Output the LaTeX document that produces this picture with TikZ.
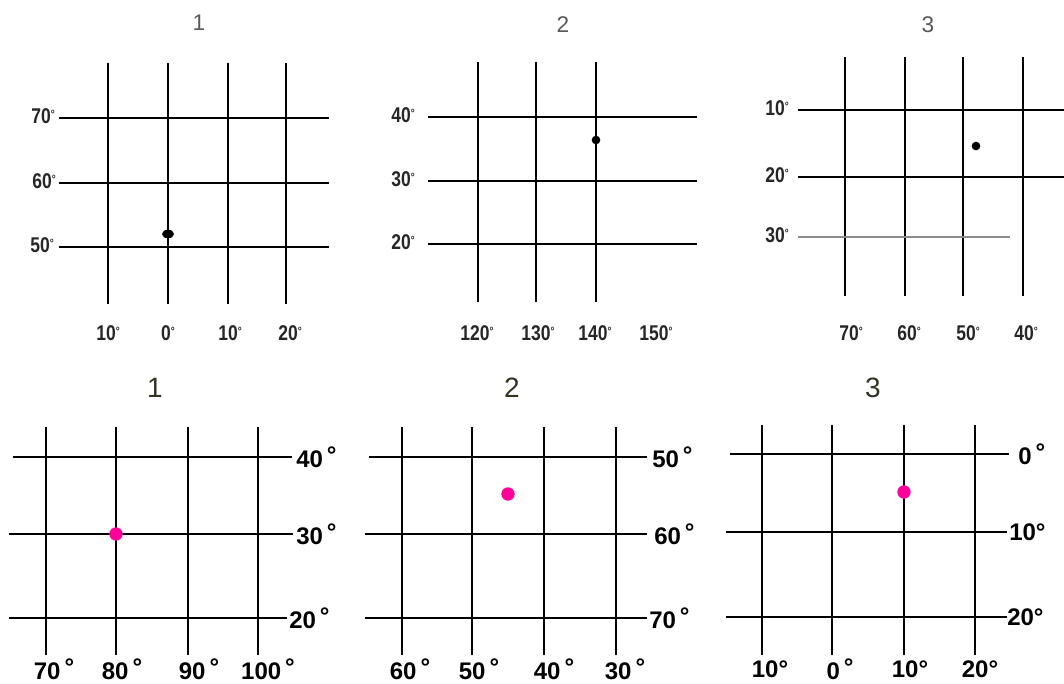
\documentclass[tikz,border=0pt]{standalone}
\usepackage{fontspec}
\setmainfont{Liberation Sans}
\newfontfamily\condfont[FakeStretch=0.82]{Liberation Sans}
\usetikzlibrary{positioning, shapes.geometric}
\definecolor{cMag}{RGB}{255,0,153}
\definecolor{cTitle}{RGB}{51,51,34}
\definecolor{cGrey}{RGB}{90,90,90}
\newcommand{\dg}{\raisebox{4pt}{\fontsize{9}{9}\selectfont °}}
\newcommand{\bdg}{\,\raisebox{3pt}{°}}
\tikzset{
	gridline/.style={line width=1.2pt, black},
	faintline/.style={line width=0.9pt, black!45},
	toplab/.style={font=\condfont\bfseries\fontsize{16}{16}\selectfont, text=black!85, inner sep=0pt},
	botlab/.style={font=\bfseries\fontsize{18}{18}\selectfont, inner sep=0pt},
	toptitle/.style={font=\fontsize{17}{17}\selectfont, text=cGrey},
	bottitle/.style={font=\fontsize{21}{21}\selectfont, text=cTitle},
	bkdot/.style={circle, fill=black, inner sep=0pt, minimum size=6.5pt},
	mgdot/.style={circle, fill=cMag, inner sep=0pt, minimum size=10pt},
}

\begin{document}
\begin{tikzpicture}[x=0.75pt, y=-0.75pt]
	\useasboundingbox (0,0) rectangle (1064,683);
	% top row, map 1
	\node[toptitle] (ta) at (199,23) {1};
	\foreach \x in {108,168,228,286} \draw[gridline] (\x,63) -- (\x,304);
	\foreach \y in {118,183,247} \draw[gridline] (59,\y) -- (329,\y);
	\node[toplab, anchor=east] (ta70) at (55,116) {70\dg};
	\node[toplab, anchor=east] (ta60) at (56,181) {60\dg};
	\node[toplab, anchor=east] (ta50) at (54,245) {50\dg};
	\node[toplab] (ta10w) at (108,333) {10\dg};
	\node[toplab] (ta0) at (168,333) {0\dg};
	\node[toplab] (ta10e) at (230,333) {10\dg};
	\node[toplab] (ta20) at (290,333) {20\dg};
	\node[bkdot, ellipse, minimum width=9pt, minimum height=6.5pt] (pa) at (168,234) {};
	% top row, map 2
	\node[toptitle] (tb) at (563,25) {2};
	\foreach \x in {478,536,596} \draw[gridline] (\x,62) -- (\x,302);
	\foreach \y in {117,181,244} \draw[gridline] (428,\y) -- (697,\y);
	\node[toplab, anchor=east] (tb40) at (415,115) {40\dg};
	\node[toplab, anchor=east] (tb30) at (415,179) {30\dg};
	\node[toplab, anchor=east] (tb20) at (415,242) {20\dg};
	\node[toplab] (tb120) at (477,333) {120\dg};
	\node[toplab] (tb130) at (538,333) {130\dg};
	\node[toplab] (tb140) at (595,333) {140\dg};
	\node[toplab] (tb150) at (656,333) {150\dg};
	\node[bkdot] (pb) at (596,140) {};
	% top row, map 3
	\node[toptitle] (tc) at (928,25) {3};
	\foreach \x in {845,905,963,1023} \draw[gridline] (\x,57) -- (\x,296);
	\foreach \y in {110,177} \draw[gridline] (798,\y) -- (1064,\y);
	\draw[faintline] (798,237) -- (1010,237);
	\node[toplab, anchor=east] (tc10) at (789,108) {10\dg};
	\node[toplab, anchor=east] (tc20) at (789,175) {20\dg};
	\node[toplab, anchor=east] (tc30) at (789,235) {30\dg};
	\node[toplab] (tc70) at (851,333) {70\dg};
	\node[toplab] (tc60) at (909,333) {60\dg};
	\node[toplab] (tc50) at (968,333) {50\dg};
	\node[toplab] (tc40) at (1026,333) {40\dg};
	\node[bkdot] (pc) at (976,146) {};
	% bottom row, map 1
	\node[bottitle] (ba) at (155,388) {1};
	\foreach \x in {46,116,188,258} \draw[gridline] (\x,427) -- (\x,655);
	\draw[gridline] (13,457) -- (292,457);
	\draw[gridline] (9,534) -- (293,534);
	\draw[gridline] (9,618) -- (287,618);
	\node[botlab, anchor=west] (ba40) at (296,457) {40\bdg};
	\node[botlab, anchor=west] (ba30) at (296,534) {30\bdg};
	\node[botlab, anchor=west] (ba20) at (289,618) {20\bdg};
	\node[botlab] (ba70) at (54,669) {70\bdg};
	\node[botlab] (ba80) at (122,669) {80\bdg};
	\node[botlab] (ba90) at (199,669) {90\bdg};
	\node[botlab] (ba100) at (268,669) {100\bdg};
	\node[mgdot] (qa) at (116,534) {};
	% bottom row, map 2
	\node[bottitle] (bb) at (512,388) {2};
	\foreach \x in {402,472,544,616} \draw[gridline] (\x,427) -- (\x,655);
	\draw[gridline] (369,457) -- (647,457);
	\draw[gridline] (365,534) -- (647,534);
	\draw[gridline] (365,618) -- (647,618);
	\node[botlab, anchor=west] (bb50) at (652,457) {50\bdg};
	\node[botlab, anchor=west] (bb60) at (654,534) {60\bdg};
	\node[botlab, anchor=west] (bb70) at (649,618) {70\bdg};
	\node[botlab] (bb60b) at (410,669) {60\bdg};
	\node[botlab] (bb50b) at (479,669) {50\bdg};
	\node[botlab] (bb40b) at (554,669) {40\bdg};
	\node[botlab] (bb30b) at (625,669) {30\bdg};
	\node[mgdot] (qb) at (508,494) {};
	% bottom row, map 3
	\node[bottitle] (bc) at (873,388) {3};
	\foreach \x in {762,832,904,975} \draw[gridline] (\x,425) -- (\x,655);
	\draw[gridline] (730,454) -- (1009,454);
	\draw[gridline] (726,532) -- (1007,532);
	\draw[gridline] (726,617) -- (1007,617);
	\node[botlab, anchor=west] (bc0) at (1018,454) {0\bdg};
	\node[botlab, anchor=west] (bc10) at (1009,532) {10°};
	\node[botlab, anchor=west] (bc20) at (1007,617) {20°};
	\node[botlab] (bc10w) at (770,669) {10°};
	\node[botlab] (bc0b) at (840,669) {0\bdg};
	\node[botlab] (bc10e) at (910,669) {10°};
	\node[botlab] (bc20b) at (980,669) {20°};
	\node[mgdot] (qc) at (904,492) {};
\end{tikzpicture}
\end{document}
